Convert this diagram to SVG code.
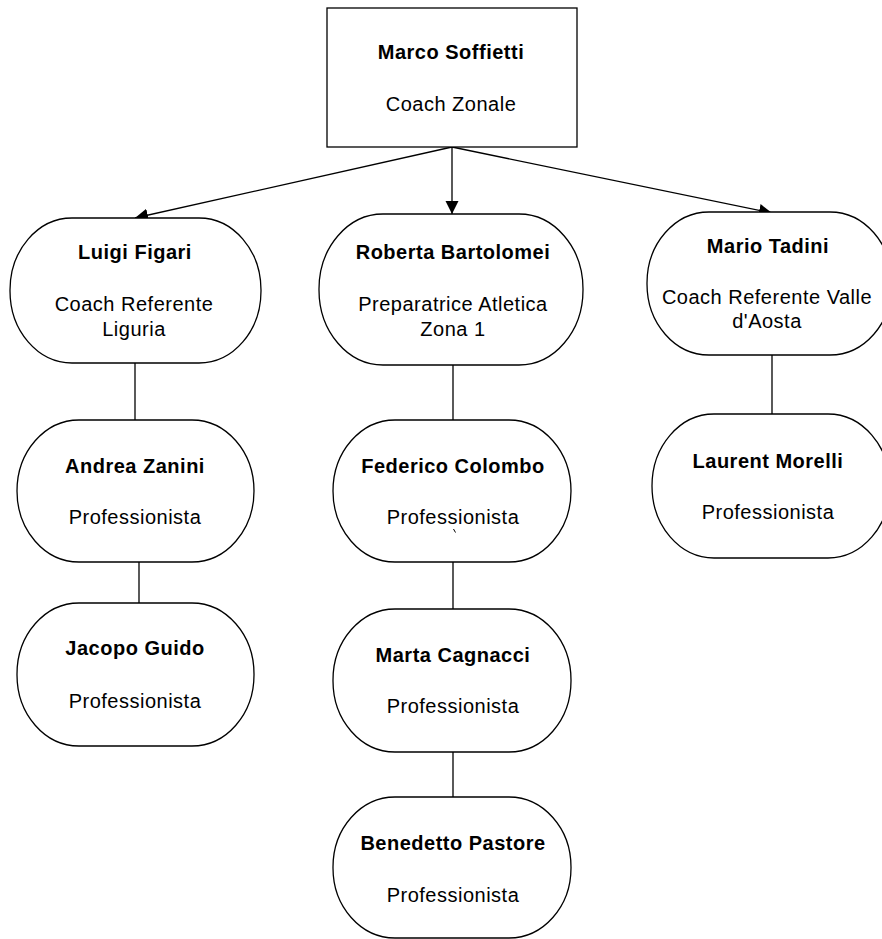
<svg xmlns="http://www.w3.org/2000/svg" width="882" height="939" viewBox="0 0 882 939">
  <style>
    .box { fill: #ffffff; stroke: #000000; stroke-width: 1.3; }
    .conn { fill: none; stroke: #000000; stroke-width: 1.3; }
    text { font-family: "Liberation Sans", Arial, sans-serif; font-size: 20px; fill: #000000; text-anchor: middle; letter-spacing: 0.5px; }
    .name { font-weight: bold; }
  </style>
  <defs>
    <marker id="arrow" markerUnits="userSpaceOnUse" markerWidth="14" markerHeight="14" refX="13" refY="6.5" orient="auto">
      <path d="M0,0 L13,6.5 L0,13 Z" fill="#000000"/>
    </marker>
  </defs>
  <rect width="882" height="939" fill="#ffffff"/>

  <g id="connectors">
    <line class="conn" x1="452" y1="147" x2="135" y2="218" marker-end="url(#arrow)"/>
    <line class="conn" x1="452" y1="147" x2="452" y2="214" marker-end="url(#arrow)"/>
    <line class="conn" x1="452" y1="147" x2="772" y2="213" marker-end="url(#arrow)"/>
    <line class="conn" x1="135" y1="363" x2="135" y2="420"/>
    <line class="conn" x1="139" y1="562" x2="139" y2="603"/>
    <line class="conn" x1="453" y1="365" x2="453" y2="420"/>
    <line class="conn" x1="453" y1="562" x2="453" y2="609"/>
    <line class="conn" x1="453" y1="752" x2="453" y2="797"/>
    <line class="conn" x1="772" y1="355" x2="772" y2="414"/>
  </g>

  <g id="marco-soffietti">
    <rect class="box" x="327" y="8" width="250" height="139"/>
    <text class="name" x="451" y="59">Marco Soffietti</text>
    <text x="451" y="111">Coach Zonale</text>
  </g>

  <g id="luigi-figari">
    <rect class="box" x="10" y="218" width="251" height="145" rx="62" ry="72"/>
    <text class="name" x="135" y="259">Luigi Figari</text>
    <text x="134" y="311">Coach Referente</text>
    <text x="134" y="336">Liguria</text>
  </g>

  <g id="roberta-bartolomei">
    <rect class="box" x="319" y="214" width="264" height="151" rx="64" ry="75"/>
    <text class="name" x="453" y="259">Roberta Bartolomei</text>
    <text x="453" y="311">Preparatrice Atletica</text>
    <text x="453" y="336">Zona 1</text>
  </g>

  <g id="mario-tadini">
    <rect class="box" x="647" y="212" width="245" height="143" rx="62" ry="71"/>
    <text class="name" x="768" y="253">Mario Tadini</text>
    <text x="767" y="304">Coach Referente Valle</text>
    <text x="767" y="328">d'Aosta</text>
  </g>

  <g id="andrea-zanini">
    <rect class="box" x="17" y="420" width="237" height="142" rx="62" ry="71"/>
    <text class="name" x="135" y="473">Andrea Zanini</text>
    <text x="135" y="524">Professionista</text>
  </g>

  <g id="federico-colombo">
    <rect class="box" x="333" y="420" width="238" height="142" rx="62" ry="71"/>
    <text class="name" x="453" y="473">Federico Colombo</text>
    <text x="453" y="524">Professionista</text>
    <path d="M453.5,529 L455.5,532.5" stroke="#000000" stroke-width="1" fill="none"/>
  </g>

  <g id="laurent-morelli">
    <rect class="box" x="652" y="414" width="238" height="144" rx="62" ry="72"/>
    <text class="name" x="768" y="468">Laurent Morelli</text>
    <text x="768" y="519">Professionista</text>
  </g>

  <g id="jacopo-guido">
    <rect class="box" x="17" y="603" width="237" height="143" rx="62" ry="71"/>
    <text class="name" x="135" y="655">Jacopo Guido</text>
    <text x="135" y="708">Professionista</text>
  </g>

  <g id="marta-cagnacci">
    <rect class="box" x="333" y="609" width="238" height="143" rx="62" ry="71"/>
    <text class="name" x="453" y="662">Marta Cagnacci</text>
    <text x="453" y="713">Professionista</text>
  </g>

  <g id="benedetto-pastore">
    <rect class="box" x="333" y="797" width="238" height="141" rx="62" ry="70"/>
    <text class="name" x="453" y="850">Benedetto Pastore</text>
    <text x="453" y="902">Professionista</text>
  </g>
</svg>
